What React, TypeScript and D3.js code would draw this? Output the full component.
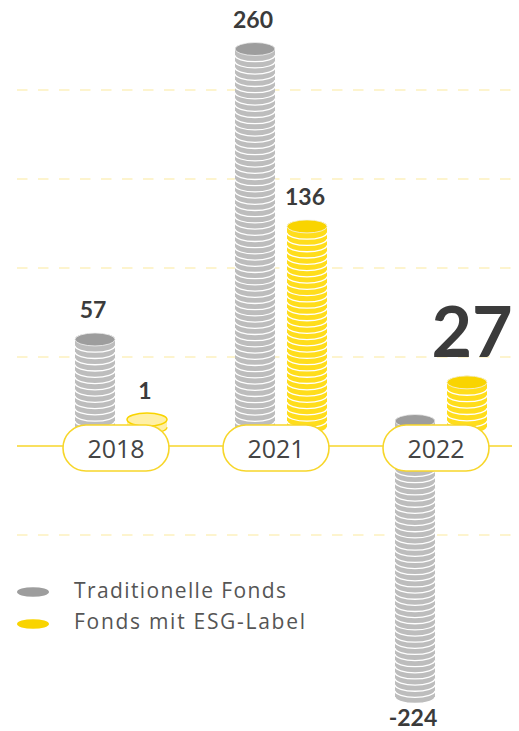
import React from "react";
import * as d3 from "d3";

const years = ["2018", "2021", "2022"];
const traditional = [57, 260, -224];
const esg = [1, 136, 27];
const seriesNames = ["Traditionelle Fonds", "Fonds mit ESG-Label"];
const legendWidths = [212, 231];

const W = 519;
const H = 731;
const axisY = 446;
const gridStep = 89;
const gridOffsets = [-4, -3, -2, -1, 1];

const GRAY_TOP = "#9d9d9d";
const GRAY_BODY = "#bdbdbd";
const YEL_TOP = "#f9d400";
const YEL_BODY = "#ffdd1c";
const TEXT = "#3b3b3b";
const FONT = "Lato, 'Open Sans', sans-serif";

const x0 = d3.scaleBand<string>().domain(years).range([40, 520]).paddingInner(0).paddingOuter(0);
const yScale = d3.scaleLinear().domain([-224, 0, 260]).range([697, 421, 49]);

const RX = 20;
const RY = 6.5;
const COIN = 6.2;

function coinPath(cx: number, c: number, t: number) {
  return `M${cx - RX},${c} A${RX},${RY} 0 0 1 ${cx + RX},${c} L${cx + RX},${c + t} A${RX},${RY} 0 0 1 ${cx - RX},${c + t} Z`;
}
function bottomArc(cx: number, c: number, t: number) {
  return `M${cx + RX},${c + t} A${RX},${RY} 0 0 1 ${cx - RX},${c + t}`;
}

function Stack({ cx, value, top, body }: { cx: number; value: number; top: string; body: string }) {
  let yTop: number, yBot: number;
  if (value >= 0) {
    yTop = yScale(value);
    yBot = yScale(0) + COIN;
  } else {
    yTop = yScale(0);
    yBot = yScale(value);
  }
  const n = Math.max(1, Math.round((yBot - yTop) / COIN));
  const t = (yBot - yTop) / n;
  const coins = d3.range(n).map((i) => yBot - (i + 1) * t);
  const pale = value >= 0 && value < 5;
  return (
    <g>
      {coins.map((c, i) => (
        <g key={i}>
          <path d={coinPath(cx, c, t)} fill={pale ? "#fff0a6" : body} />
          <path d={bottomArc(cx, c, t)} fill="none" stroke={pale ? YEL_TOP : "#fff"} strokeWidth={1.3} />
        </g>
      ))}
      <ellipse
        cx={cx}
        cy={yTop}
        rx={RX}
        ry={RY}
        fill={pale ? "#fff0a6" : top}
        stroke={pale ? YEL_TOP : "#f2f2f2"}
        strokeWidth={pale ? 1.5 : 0.8}
      />
    </g>
  );
}

export default function App() {
  const groupOffset = 26;
  return (
    <svg width={W} height={H} style={{ position: "absolute", left: 0, top: 0 }} fontFamily={FONT}>
      <rect width={W} height={H} fill="#fff" />
      {gridOffsets.map((k) => (
        <line
          key={k}
          x1={17}
          x2={512}
          y1={axisY + k * gridStep}
          y2={axisY + k * gridStep}
          stroke="#fdf1bf"
          strokeWidth={1.7}
          strokeDasharray="10.5 10.5"
        />
      ))}
      <line x1={17} x2={512} y1={axisY} y2={axisY} stroke="#f7d62a" strokeWidth={1.5} />
      {years.map((yr, i) => {
        const c = (x0(yr) as number) + x0.bandwidth() / 2;
        return (
          <g key={yr}>
            <Stack cx={c - groupOffset + 1} value={traditional[i]} top={GRAY_TOP} body={GRAY_BODY} />
            <Stack cx={c + groupOffset + 1} value={esg[i]} top={YEL_TOP} body={YEL_BODY} />
          </g>
        );
      })}
      {years.map((yr) => {
        const c = (x0(yr) as number) + x0.bandwidth() / 2 - 4;
        return (
          <g key={"p" + yr}>
            <rect x={c - 53} y={axisY - 21} width={106} height={46} rx={23} fill="#fff" stroke="#f7d62a" strokeWidth={1.6} />
            <text x={c} y={axisY + 12} textAnchor="middle" fontSize={25} fill="#444" fontWeight={400} fontFamily="'Open Sans', sans-serif">
              {yr}
            </text>
          </g>
        );
      })}
      {years.map((yr, i) => {
        const c = (x0(yr) as number) + x0.bandwidth() / 2;
        const tv = traditional[i];
        const ev = esg[i];
        const big = i === years.length - 1;
        return (
          <g key={"l" + yr} fill={TEXT} fontWeight={700} textAnchor="middle">
            {tv >= 0 ? (
              <text x={c - groupOffset - 1} y={yScale(tv) - 21} fontSize={23}>
                {tv}
              </text>
            ) : (
              <text x={c - groupOffset - 1} y={yScale(tv) + 29} fontSize={23}>
                {tv}
              </text>
            )}
            {big ? (
              <text x={c + groupOffset + 6} y={357} fontSize={70}>
                {ev}
              </text>
            ) : (
              <text x={c + groupOffset - 1} y={yScale(ev) - 21} fontSize={23}>
                {ev}
              </text>
            )}
          </g>
        );
      })}
      {seriesNames.map((name, i) => (
        <g key={name}>
          <ellipse cx={33} cy={592 + i * 32} rx={16} ry={4.8} fill={i === 0 ? GRAY_TOP : YEL_TOP} />
          <text
            x={74}
            y={598 + i * 31}
            fontSize={21}
            fill="#555"
            fontWeight={400}
            fontFamily="'Open Sans', sans-serif"
            textLength={legendWidths[i]}
            lengthAdjust="spacing"
          >
            {name}
          </text>
        </g>
      ))}
    </svg>
  );
}
